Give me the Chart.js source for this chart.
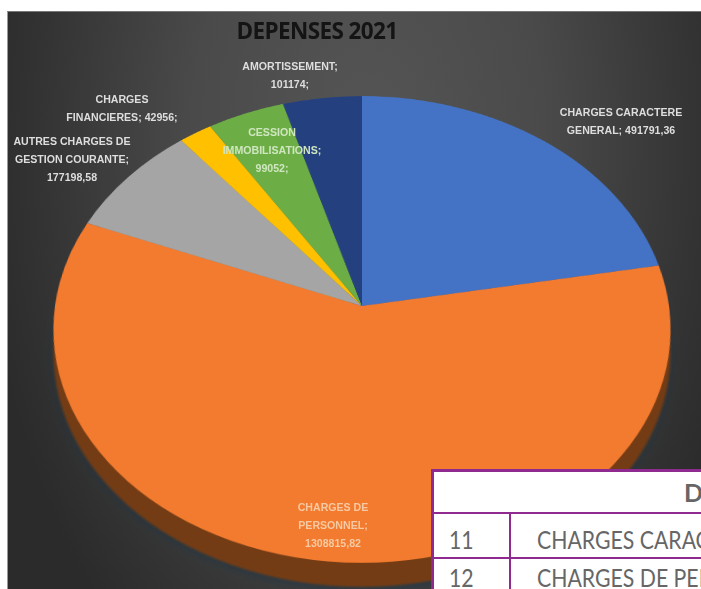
<!DOCTYPE html>
<html lang="fr">
<head>
<meta charset="utf-8">
<title>DEPENSES 2021</title>
<script src="https://cdn.jsdelivr.net/npm/chart.js@4"></script>
<style>
  html, body { margin: 0; padding: 0; background: #fff; }
  #stage { position: relative; width: 701px; height: 589px; overflow: hidden; background: #fff; }
  #panel {
    position: absolute; left: 7px; top: 11px; width: 694px; height: 578px;
    border-top: 1px solid #777; border-left: 1px solid #999; box-sizing: border-box;
    background: radial-gradient(ellipse 390px 640px at 52% 22%, #555 0%, #4a4a4a 45%, #333 85%, #2b2b2b 100%);
  }
  .pie {
    position: absolute; left: 42px; top: -14px; width: 640px; height: 640px;
    transform-origin: 320px 320px;
    transform: perspective(2013px) rotateX(41.2deg);
  }
  #rimWrap { top: 10px; filter: blur(0.8px) drop-shadow(0 3px 4px rgba(25, 55, 75, 0.6)); }
  #pieWrap { filter: blur(0.4px); }
  #title {
    position: absolute; left: 197px; width: 240px; top: 15px; text-align: center;
    font: bold 22.5px "Open Sans", sans-serif; letter-spacing: -0.6px; color: #141414; filter: blur(0.7px);
  }
  .lbl {
    position: absolute; transform: translateX(-50%); white-space: nowrap; text-align: center;
    font: bold 10.6px/18px "Liberation Sans", sans-serif; filter: blur(0.6px);
  }
  #recap {
    position: absolute; left: 431px; top: 469px; border-collapse: collapse; table-layout: fixed;
    width: 420px; background: #fff; color: #666; font: 25px "Lato", sans-serif;
  }
  #recap td { border: 2px solid #8e2a90; padding: 0; box-sizing: border-box; white-space: nowrap; overflow: hidden; }
  #recap tr.head td { height: 42px; font-weight: bold; text-align: left; padding-left: 250px; border-width: 3px 3px 2px; }
  #recap tr.row td { height: 45px; vertical-align: bottom; padding-bottom: 3px; }
  #recap tr.row + tr.row td { height: 38px; }
  #recap td.code { padding-left: 15px; border-left-width: 3px; }
  #recap td.name { padding-left: 26px; }
  #recap span { display: inline-block; transform: scaleX(0.85); transform-origin: left center; }
</style>
</head>
<body>
<div id="stage">
  <div id="panel"></div>
  <div class="pie" id="rimWrap"><canvas id="rimChart" width="640" height="640"></canvas></div>
  <div class="pie" id="pieWrap"><canvas id="pieChart" width="640" height="640"></canvas></div>
  <div id="title"></div>
  <div id="labels"></div>
  <table id="recap"><colgroup><col style="width:77px"><col></colgroup><tbody id="recapBody"></tbody></table>
</div>
<script>
const chartTitle = 'DEPENSES 2021';
const categories = [
  'CHARGES CARACTERE GENERAL',
  'CHARGES DE PERSONNEL',
  'AUTRES CHARGES DE GESTION COURANTE',
  'CHARGES FINANCIERES',
  'CESSION IMMOBILISATIONS',
  'AMORTISSEMENT'
];
const depenses = [491791.36, 1308815.82, 177198.58, 42956, 99052, 101174];
const sliceColors = ['#4472c4', '#f37b2f', '#a5a5a5', '#ffc000', '#6cae45', '#25407f'];
const rimColors = ['#2d4c85', '#743c14', '#6e6e6e', '#a88000', '#4a752f', '#182a54'];

// texte des étiquettes, tel qu'il est coupé dans l'image
const labelLines = [
  ['CHARGES CARACTERE', 'GENERAL; 491791,36'],
  ['CHARGES DE', 'PERSONNEL;', '1308815,82'],
  ['AUTRES CHARGES DE', 'GESTION COURANTE;', '177198,58'],
  ['CHARGES', 'FINANCIERES; 42956;'],
  ['CESSION', 'IMMOBILISATIONS;', '99052;'],
  ['AMORTISSEMENT;', '101174;']
];
const labelSpots = [[621, 103], [333, 498], [72, 132], [122, 90], [272, 123], [290, 57]];
const labelColors = ['#dedede', '#f7c9a2', '#dedede', '#dedede', '#cfe6c0', '#dedede'];

const tableHead = 'DEPENSES';
const tableCodes = ['11', '12'];
const tableNames = ['CHARGES CARACTERE GENERAL', 'CHARGES DE PERSONNEL'];

function makePie(id, colors) {
  return new Chart(document.getElementById(id), {
    type: 'pie',
    data: {
      labels: categories,
      datasets: [{ data: depenses, backgroundColor: colors, borderWidth: 0, radius: 307 }]
    },
    options: {
      responsive: false,
      animation: false,
      layout: { padding: 0 },
      plugins: { legend: { display: false }, tooltip: { enabled: false } }
    }
  });
}

makePie('rimChart', rimColors);
makePie('pieChart', sliceColors);

document.getElementById('title').textContent = chartTitle;

const labelBox = document.getElementById('labels');
labelLines.forEach((lines, i) => {
  const div = document.createElement('div');
  div.className = 'lbl';
  div.style.left = labelSpots[i][0] + 'px';
  div.style.top = labelSpots[i][1] + 'px';
  div.style.color = labelColors[i];
  div.innerHTML = lines.join('<br>');
  labelBox.appendChild(div);
});

let rows = '<tr class="head"><td colspan="2">' + tableHead + '</td></tr>';
tableCodes.forEach((code, i) => {
  rows += '<tr class="row"><td class="code"><span>' + code + '</span></td><td class="name"><span>' + tableNames[i] + '</span></td></tr>';
});
document.getElementById('recapBody').innerHTML = rows;
</script>
</body>
</html>
